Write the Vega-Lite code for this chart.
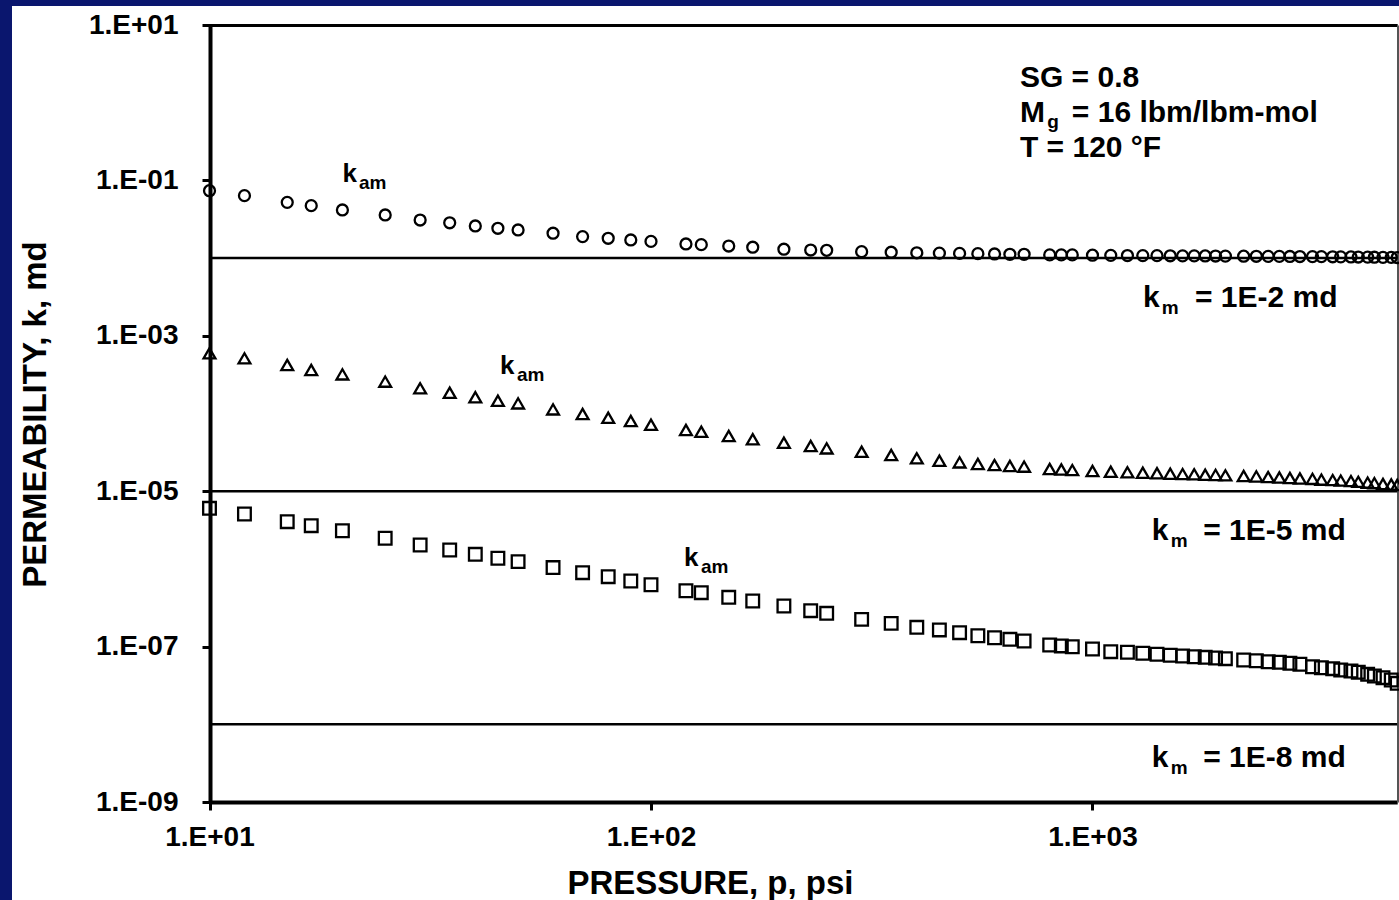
{
  "$schema": "https://vega.github.io/schema/vega-lite/v6.json",
  "width": 1387,
  "height": 894,
  "autosize": {"type": "none"},
  "padding": {"left": 12, "top": 6, "right": 0, "bottom": 0},
  "background": "#0a166e",
  "config": {
    "view": {"fill": "white", "stroke": null},
    "axis": {"grid": false},
    "font": "Liberation Sans"
  },
  "datasets": {
    "series": [
      {"p": 10, "a": 0.0737, "b": 5.95e-4, "c": 6.02e-6},
      {"p": 12, "a": 0.0636, "b": 5.13e-4, "c": 5.09e-6},
      {"p": 15, "a": 0.0522, "b": 4.21e-4, "c": 4.05e-6},
      {"p": 17, "a": 0.0473, "b": 3.63e-4, "c": 3.60e-6},
      {"p": 20, "a": 0.0416, "b": 3.19e-4, "c": 3.10e-6},
      {"p": 25, "a": 0.0359, "b": 2.57e-4, "c": 2.48e-6},
      {"p": 30, "a": 0.0309, "b": 2.11e-4, "c": 2.03e-6},
      {"p": 35, "a": 0.0285, "b": 1.85e-4, "c": 1.75e-6},
      {"p": 40, "a": 0.0259, "b": 1.62e-4, "c": 1.54e-6},
      {"p": 45, "a": 0.0242, "b": 1.46e-4, "c": 1.37e-6},
      {"p": 50, "a": 0.0230, "b": 1.35e-4, "c": 1.24e-6},
      {"p": 60, "a": 0.0209, "b": 1.13e-4, "c": 1.04e-6},
      {"p": 70, "a": 0.0189, "b": 9.85e-5, "c": 8.94e-7},
      {"p": 80, "a": 0.0180, "b": 8.83e-5, "c": 7.94e-7},
      {"p": 90, "a": 0.0171, "b": 8.01e-5, "c": 6.99e-7},
      {"p": 100, "a": 0.0164, "b": 7.18e-5, "c": 6.26e-7},
      {"p": 120, "a": 0.0152, "b": 6.13e-5, "c": 5.24e-7},
      {"p": 130, "a": 0.0149, "b": 5.83e-5, "c": 4.94e-7},
      {"p": 150, "a": 0.0143, "b": 5.13e-5, "c": 4.31e-7},
      {"p": 170, "a": 0.0138, "b": 4.66e-5, "c": 3.86e-7},
      {"p": 200, "a": 0.0130, "b": 4.21e-5, "c": 3.33e-7},
      {"p": 230, "a": 0.0127, "b": 3.82e-5, "c": 2.90e-7},
      {"p": 250, "a": 0.0126, "b": 3.56e-5, "c": 2.68e-7},
      {"p": 300, "a": 0.0121, "b": 3.22e-5, "c": 2.24e-7},
      {"p": 350, "a": 0.0119, "b": 2.92e-5, "c": 1.99e-7},
      {"p": 400, "a": 0.0117, "b": 2.65e-5, "c": 1.77e-7},
      {"p": 450, "a": 0.0116, "b": 2.47e-5, "c": 1.64e-7},
      {"p": 500, "a": 0.0115, "b": 2.35e-5, "c": 1.51e-7},
      {"p": 550, "a": 0.0114, "b": 2.24e-5, "c": 1.38e-7},
      {"p": 600, "a": 0.0113, "b": 2.17e-5, "c": 1.30e-7},
      {"p": 650, "a": 0.0112, "b": 2.11e-5, "c": 1.24e-7},
      {"p": 700, "a": 0.0112, "b": 2.07e-5, "c": 1.18e-7},
      {"p": 800, "a": 0.0110, "b": 1.93e-5, "c": 1.05e-7},
      {"p": 850, "a": 0.0110, "b": 1.90e-5, "c": 1.02e-7},
      {"p": 900, "a": 0.0110, "b": 1.87e-5, "c": 9.97e-8},
      {"p": 1000, "a": 0.0109, "b": 1.82e-5, "c": 9.31e-8},
      {"p": 1100, "a": 0.01085, "b": 1.78e-5, "c": 8.60e-8},
      {"p": 1200, "a": 0.0108, "b": 1.75e-5, "c": 8.45e-8},
      {"p": 1300, "a": 0.01078, "b": 1.73e-5, "c": 8.20e-8},
      {"p": 1400, "a": 0.01075, "b": 1.70e-5, "c": 7.96e-8},
      {"p": 1500, "a": 0.01072, "b": 1.68e-5, "c": 7.73e-8},
      {"p": 1600, "a": 0.0107, "b": 1.66e-5, "c": 7.57e-8},
      {"p": 1700, "a": 0.01068, "b": 1.65e-5, "c": 7.41e-8},
      {"p": 1800, "a": 0.01066, "b": 1.63e-5, "c": 7.28e-8},
      {"p": 1900, "a": 0.01064, "b": 1.62e-5, "c": 7.13e-8},
      {"p": 2000, "a": 0.01062, "b": 1.60e-5, "c": 6.99e-8},
      {"p": 2200, "a": 0.01058, "b": 1.57e-5, "c": 6.72e-8},
      {"p": 2350, "a": 0.01056, "b": 1.55e-5, "c": 6.58e-8},
      {"p": 2500, "a": 0.01054, "b": 1.52e-5, "c": 6.39e-8},
      {"p": 2650, "a": 0.01052, "b": 1.50e-5, "c": 6.28e-8},
      {"p": 2800, "a": 0.0105, "b": 1.48e-5, "c": 6.10e-8},
      {"p": 2950, "a": 0.01048, "b": 1.46e-5, "c": 5.92e-8},
      {"p": 3150, "a": 0.01045, "b": 1.44e-5, "c": 5.51e-8},
      {"p": 3300, "a": 0.01043, "b": 1.41e-5, "c": 5.35e-8},
      {"p": 3500, "a": 0.0104, "b": 1.39e-5, "c": 5.20e-8},
      {"p": 3650, "a": 0.01038, "b": 1.37e-5, "c": 5.00e-8},
      {"p": 3850, "a": 0.01035, "b": 1.35e-5, "c": 4.85e-8},
      {"p": 4000, "a": 0.01032, "b": 1.32e-5, "c": 4.67e-8},
      {"p": 4200, "a": 0.01029, "b": 1.29e-5, "c": 4.40e-8},
      {"p": 4350, "a": 0.01026, "b": 1.27e-5, "c": 4.18e-8},
      {"p": 4550, "a": 0.01023, "b": 1.24e-5, "c": 3.98e-8},
      {"p": 4750, "a": 0.0102, "b": 1.22e-5, "c": 3.72e-8},
      {"p": 4900, "a": 0.01017, "b": 1.20e-5, "c": 3.37e-8}
    ],
    "km": [
      {"km": 0.01},
      {"km": 1e-5},
      {"km": 1e-8}
    ],
    "big": [
      {"p": 685, "k": 1.592, "t": "SG = 0.8"},
      {"p": 685, "k": 0.5645, "t": "M"},
      {"p": 898, "k": 0.5645, "t": "= 16 lbm/lbm-mol"},
      {"p": 685, "k": 0.2001, "t": "T = 120 °F"},
      {"p": 1301, "k": 2.349e-3, "t": "k"},
      {"p": 1707, "k": 2.349e-3, "t": "= 1E-2 md"},
      {"p": 1362, "k": 2.354e-6, "t": "k"},
      {"p": 1782, "k": 2.354e-6, "t": "= 1E-5 md"},
      {"p": 1362, "k": 2.82e-9, "t": "k"},
      {"p": 1782, "k": 2.82e-9, "t": "= 1E-8 md"}
    ],
    "kam": [
      {"p": 20, "k": 0.0954, "t": "k"},
      {"p": 45.5, "k": 3.22e-4, "t": "k"},
      {"p": 118.8, "k": 1.09e-6, "t": "k"}
    ],
    "sub": [
      {"p": 21.8, "k": 0.0775, "t": "am"},
      {"p": 49.7, "k": 2.62e-4, "t": "am"},
      {"p": 129.8, "k": 8.85e-7, "t": "am"},
      {"p": 790, "k": 0.4725, "t": "g"},
      {"p": 1435, "k": 1.908e-3, "t": "m"},
      {"p": 1505, "k": 1.913e-6, "t": "m"},
      {"p": 1505, "k": 2.293e-9, "t": "m"}
    ]
  },
  "resolve": {"axis": {"x": "independent", "y": "independent"}},
  "layer": [
    {
      "data": {"name": "km"},
      "mark": {"type": "rule", "color": "black", "strokeWidth": 2.5},
      "encoding": {
        "y": {
          "field": "km",
          "type": "quantitative",
          "scale": {"type": "log", "domain": [1e-9, 10], "range": [796, 19], "nice": false},
          "axis": {"orient": "right", "offset": -1.5, "labels": false, "ticks": false, "title": null, "domainColor": "#555555", "domainWidth": 2}
        },
        "x": {
          "datum": 10,
          "type": "quantitative",
          "scale": {"type": "log", "domain": [10, 4900], "range": [197.5, 1385.2], "nice": false},
          "axis": {"orient": "top", "offset": -19, "labels": false, "ticks": false, "title": null, "domainColor": "black", "domainWidth": 3}
        },
        "x2": {"datum": 4900}
      }
    },
    {
      "data": {"name": "series"},
      "transform": [{"fold": ["a", "b", "c"], "as": ["series", "k"]}],
      "mark": {"type": "point", "filled": false, "strokeWidth": 2.3, "color": "black", "opacity": 1},
      "encoding": {
        "x": {
          "field": "p",
          "type": "quantitative",
          "axis": {
            "orient": "bottom",
            "offset": -98,
            "values": [10, 100, 1000],
            "labelExpr": "'1.E' + (log(datum.value)/LN10 >= -0.5 ? '+' : '-') + (abs(round(log(datum.value)/LN10)) < 10 ? '0' : '') + abs(round(log(datum.value)/LN10))",
            "labelFont": "Liberation Sans",
            "labelFontSize": 28,
            "labelFontWeight": "bold",
            "labelColor": "black",
            "labelPadding": 13,
            "labelFlush": false,
            "labelOverlap": false,
            "labelBound": false,
            "tickSize": 8,
            "tickWidth": 3,
            "tickColor": "black",
            "domainColor": "black",
            "domainWidth": 4,
            "title": "PRESSURE, p, psi",
            "titleFont": "Liberation Sans",
            "titleFontSize": 33,
            "titleFontWeight": "bold",
            "titleColor": "black",
            "titleX": 698,
            "titleY": 91,
            "titleBaseline": "alphabetic",
            "titleAlign": "center"
          }
        },
        "y": {
          "field": "k",
          "type": "quantitative",
          "axis": {
            "orient": "left",
            "offset": -198,
            "values": [10, 0.1, 0.001, 1e-5, 1e-7, 1e-9],
            "labelExpr": "'1.E' + (log(datum.value)/LN10 >= -0.5 ? '+' : '-') + (abs(round(log(datum.value)/LN10)) < 10 ? '0' : '') + abs(round(log(datum.value)/LN10))",
            "labelFont": "Liberation Sans",
            "labelFontSize": 28,
            "labelFontWeight": "bold",
            "labelColor": "black",
            "labelPadding": 24,
            "labelFlush": false,
            "labelOverlap": false,
            "labelBound": false,
            "tickSize": 8,
            "tickWidth": 3,
            "tickColor": "black",
            "domainColor": "black",
            "domainWidth": 4,
            "title": "PERMEABILITY, k, md",
            "titleFont": "Liberation Sans",
            "titleFontSize": 33,
            "titleFontWeight": "bold",
            "titleColor": "black",
            "titleX": -165,
            "titleY": 408,
            "titleAngle": -90,
            "titleBaseline": "alphabetic",
            "titleAlign": "center"
          }
        },
        "shape": {"field": "series", "type": "nominal", "scale": {"domain": ["a", "b", "c"], "range": ["circle", "triangle-up", "square"]}, "legend": null},
        "size": {"field": "series", "type": "nominal", "scale": {"domain": ["a", "b", "c"], "range": [120, 160, 130]}, "legend": null}
      }
    },
    {
      "data": {"name": "big"},
      "mark": {"type": "text", "font": "Liberation Sans", "fontWeight": "bold", "fontSize": 30, "align": "left", "baseline": "alphabetic", "color": "black"},
      "encoding": {
        "x": {"field": "p", "type": "quantitative", "axis": null},
        "y": {"field": "k", "type": "quantitative", "axis": null},
        "text": {"field": "t"}
      }
    },
    {
      "data": {"name": "kam"},
      "mark": {"type": "text", "font": "Liberation Sans", "fontWeight": "bold", "fontSize": 26, "align": "left", "baseline": "alphabetic", "color": "black"},
      "encoding": {
        "x": {"field": "p", "type": "quantitative", "axis": null},
        "y": {"field": "k", "type": "quantitative", "axis": null},
        "text": {"field": "t"}
      }
    },
    {
      "data": {"name": "sub"},
      "mark": {"type": "text", "font": "Liberation Sans", "fontWeight": "bold", "fontSize": 19, "align": "left", "baseline": "alphabetic", "color": "black"},
      "encoding": {
        "x": {"field": "p", "type": "quantitative", "axis": null},
        "y": {"field": "k", "type": "quantitative", "axis": null},
        "text": {"field": "t"}
      }
    }
  ]
}
